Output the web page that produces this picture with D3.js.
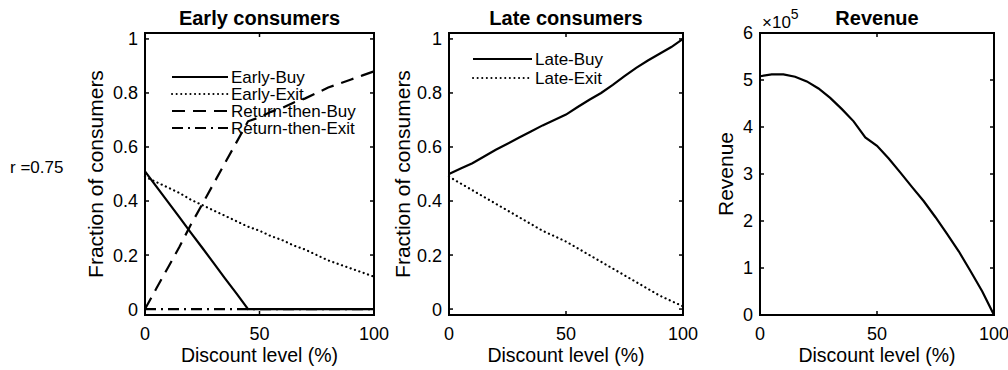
<!DOCTYPE html>
<html>
<head>
<meta charset="utf-8">
<script src="https://cdn.jsdelivr.net/npm/d3@7"></script>
<style>
  body { margin: 0; background: #fff; }
  text { font-family: "Liberation Sans", Arial, Helvetica, sans-serif; fill: #000; }
</style>
</head>
<body>
<div id="chart"></div>
<script>
// discount levels (%) shared by all three panels
var discount = [0, 5, 10, 15, 20, 25, 30, 35, 40, 45, 50, 55, 60, 65, 70, 75, 80, 85, 90, 95, 100];

// early consumers
var earlyBuy = [0.51, 0.453, 0.397, 0.34, 0.283, 0.227, 0.17, 0.113, 0.057, 0, 0, 0, 0, 0, 0, 0, 0, 0, 0, 0, 0];
var earlyExit = [0.49, 0.47, 0.45, 0.43, 0.405, 0.385, 0.365, 0.345, 0.325, 0.305, 0.29, 0.27, 0.255, 0.235, 0.22, 0.2, 0.18, 0.165, 0.15, 0.135, 0.12];
var returnBuy = [0, 0.077, 0.153, 0.23, 0.312, 0.388, 0.465, 0.542, 0.618, 0.695, 0.71, 0.73, 0.745, 0.765, 0.78, 0.8, 0.82, 0.835, 0.85, 0.865, 0.88];
var returnExit = [0, 0, 0, 0, 0, 0, 0, 0, 0, 0, 0, 0, 0, 0, 0, 0, 0, 0, 0, 0, 0];

// late consumers
var lateBuy = [0.5, 0.52, 0.54, 0.565, 0.59, 0.612, 0.635, 0.657, 0.68, 0.7, 0.72, 0.748, 0.775, 0.8, 0.83, 0.862, 0.893, 0.92, 0.945, 0.97, 1.0];
var lateExit = [0.49, 0.465, 0.44, 0.415, 0.39, 0.365, 0.34, 0.315, 0.29, 0.27, 0.25, 0.225, 0.2, 0.175, 0.15, 0.125, 0.1, 0.075, 0.05, 0.03, 0.01];

// revenue
var revenue = [508000, 512000, 512000, 507000, 497000, 482000, 462000, 438000, 412000, 378000, 360000, 333000, 303000, 272000, 242000, 208000, 172000, 135000, 93000, 50000, 0];

// tick values
var xTicks = [0, 50, 100];
var fracTicks = [0, 0.2, 0.4, 0.6, 0.8, 1];
var revTicks = [0, 100000, 200000, 300000, 400000, 500000, 600000];

var svgWidth = 1008;
var svgHeight = 370;

var svg = d3.select("#chart")
  .append("svg")
  .attr("width", svgWidth)
  .attr("height", svgHeight);

var top0 = 33, bottom0 = 315;

// line styles
var styles = {
  solid: null,
  dotted: "0.1,4.5",
  dashed: "13,8",
  dashdot: "11,5,2,5"
};

function drawPanel(opt) {
  var x = d3.scaleLinear().domain([0, 100]).range([opt.left, opt.right]);
  var y = d3.scaleLinear().domain(opt.yDomain).range([bottom0, top0]);

  var g = svg.append("g");

  // inward ticks on all four sides (matlab style)
  var tl = 4;
  xTicks.forEach(function(t) {
    g.append("line").attr("x1", x(t)).attr("x2", x(t)).attr("y1", bottom0).attr("y2", bottom0 - tl)
      .attr("stroke", "#000").attr("stroke-width", 1.5);
    g.append("line").attr("x1", x(t)).attr("x2", x(t)).attr("y1", top0).attr("y2", top0 + tl)
      .attr("stroke", "#000").attr("stroke-width", 1.5);
    g.append("text")
      .attr("x", x(t))
      .attr("y", 340)
      .attr("text-anchor", "middle")
      .attr("font-size", "18px")
      .text(t);
  });
  opt.yTicks.forEach(function(t) {
    g.append("line").attr("x1", opt.left).attr("x2", opt.left + tl).attr("y1", y(t)).attr("y2", y(t))
      .attr("stroke", "#000").attr("stroke-width", 1.5);
    g.append("line").attr("x1", opt.right).attr("x2", opt.right - tl).attr("y1", y(t)).attr("y2", y(t))
      .attr("stroke", "#000").attr("stroke-width", 1.5);
    g.append("text")
      .attr("x", opt.left - 7)
      .attr("y", y(t))
      .attr("dy", "0.36em")
      .attr("text-anchor", "end")
      .attr("font-size", "18px")
      .text(opt.tickFormat(t));
  });

  // legend (drawn first so the curves pass over it)
  if (opt.legend) {
    opt.legend.forEach(function(l, i) {
      var ly = opt.legend.y0 + i * opt.legend.step;
      g.append("line")
        .attr("x1", opt.legend.x0).attr("x2", opt.legend.x0 + opt.legend.len)
        .attr("y1", ly).attr("y2", ly)
        .attr("stroke", "#000").attr("stroke-width", 2)
        .attr("stroke-linecap", l.style === "dotted" ? "round" : "butt")
        .attr("stroke-dasharray", styles[l.style]);
      g.append("text")
        .attr("x", opt.legend.x0 + opt.legend.len + 3)
        .attr("y", ly)
        .attr("dy", "0.36em")
        .attr("font-size", "17px")
        .text(l.name);
    });
  }

  // data lines
  var line = d3.line()
    .x(function(d) { return x(d[0]); })
    .y(function(d) { return y(d[1]); });

  opt.series.forEach(function(s) {
    g.append("path")
      .datum(discount.map(function(dv, i) { return [dv, s.values[i]]; }))
      .attr("d", line)
      .attr("fill", "none")
      .attr("stroke", "#000")
      .attr("stroke-width", 2.2)
      .attr("stroke-linecap", s.style === "dotted" ? "round" : "butt")
      .attr("stroke-dasharray", styles[s.style]);
  });

  // box
  g.append("rect")
    .attr("x", opt.left)
    .attr("y", top0)
    .attr("width", opt.right - opt.left)
    .attr("height", bottom0 - top0)
    .attr("fill", "none")
    .attr("stroke", "#000")
    .attr("stroke-width", 2);

  // title
  g.append("text")
    .attr("x", (opt.left + opt.right) / 2)
    .attr("y", 25)
    .attr("text-anchor", "middle")
    .attr("font-size", "20px")
    .attr("font-weight", "bold")
    .text(opt.title);

  // x label
  g.append("text")
    .attr("x", (opt.left + opt.right) / 2)
    .attr("y", 362)
    .attr("text-anchor", "middle")
    .attr("font-size", "19.5px")
    .text("Discount level (%)");

  // y label
  g.append("text")
    .attr("transform", "translate(" + opt.yLabelX + "," + ((top0 + bottom0) / 2) + ") rotate(-90)")
    .attr("text-anchor", "middle")
    .attr("dy", "0.36em")
    .attr("font-size", "21px")
    .text(opt.yLabel);

  return g;
}

var fracFormat = function(t) { return t === 0 || t === 1 ? String(t) : d3.format(".1f")(t); };

// Early consumers
var legend1 = [
  { name: "Early-Buy", style: "solid" },
  { name: "Early-Exit", style: "dotted" },
  { name: "Return-then-Buy", style: "dashed" },
  { name: "Return-then-Exit", style: "dashdot" }
];
legend1.x0 = 172; legend1.len = 56; legend1.y0 = 77; legend1.step = 17;

drawPanel({
  left: 145, right: 374,
  yDomain: [-0.022, 1.022],
  yTicks: fracTicks,
  tickFormat: fracFormat,
  title: "Early consumers",
  yLabel: "Fraction of consumers",
  yLabelX: 95,
  legend: legend1,
  series: [
    { values: earlyBuy, style: "solid" },
    { values: earlyExit, style: "dotted" },
    { values: returnBuy, style: "dashed" },
    { values: returnExit, style: "dashdot" }
  ]
});

// Late consumers
var legend2 = [
  { name: "Late-Buy", style: "solid" },
  { name: "Late-Exit", style: "dotted" }
];
legend2.x0 = 473; legend2.len = 59; legend2.y0 = 59; legend2.step = 19;

drawPanel({
  left: 449, right: 683,
  yDomain: [-0.022, 1.022],
  yTicks: fracTicks,
  tickFormat: fracFormat,
  title: "Late consumers",
  yLabel: "Fraction of consumers",
  yLabelX: 402,
  legend: legend2,
  series: [
    { values: lateBuy, style: "solid" },
    { values: lateExit, style: "dotted" }
  ]
});

// Revenue
drawPanel({
  left: 760, right: 994,
  yDomain: [0, 600000],
  yTicks: revTicks,
  tickFormat: function(t) { return t / 100000; },
  title: "Revenue",
  yLabel: "Revenue",
  yLabelX: 725,
  series: [
    { values: revenue, style: "solid" }
  ]
});

// exponent label for revenue axis
var expo = svg.append("text")
  .attr("x", 762)
  .attr("y", 28)
  .attr("font-size", "17px");
expo.append("tspan").text("\u00d710");
expo.append("tspan").attr("dy", -9).attr("font-size", "14px").text("5");

// row label
svg.append("text")
  .attr("x", 10)
  .attr("y", 167)
  .attr("dy", "0.36em")
  .attr("font-size", "17px")
  .text("r =0.75");
</script>
</body>
</html>
